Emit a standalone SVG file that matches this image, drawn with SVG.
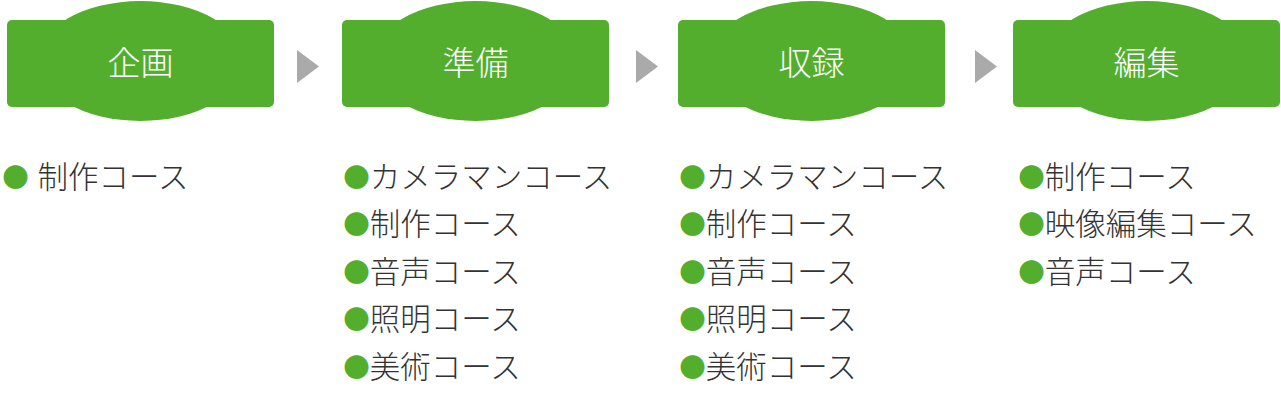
<svg xmlns="http://www.w3.org/2000/svg" width="1281" height="412" viewBox="0 0 1281 412">
<style>
.box{fill:#53ae2e}
.title{font-family:"Noto Sans CJK JP","Noto Sans",sans-serif;font-size:33px;font-weight:300;fill:#ffffff;text-anchor:middle}
.item{font-family:"Noto Sans CJK JP","Noto Sans",sans-serif;font-size:30.5px;font-weight:300;fill:#333333}
.dot{fill:#53ae2e;font-size:26.5px}
.arrow{fill:#aaaaaa}
</style>
<rect width="1281" height="412" fill="#ffffff"/>
<g id="node-kikaku">
<rect class="box" x="7" y="20" width="267" height="87" rx="5"/>
<ellipse class="box" cx="140.5" cy="61" rx="103" ry="60"/>
<text class="title" x="140.5" y="74.5">企画</text>
</g>
<g id="node-junbi">
<rect class="box" x="342" y="20" width="267" height="87" rx="5"/>
<ellipse class="box" cx="475.5" cy="61" rx="103" ry="60"/>
<text class="title" x="475.5" y="74.5">準備</text>
</g>
<g id="node-shuroku">
<rect class="box" x="678" y="20" width="267" height="87" rx="5"/>
<ellipse class="box" cx="811.5" cy="61" rx="103" ry="60"/>
<text class="title" x="811.5" y="74.5">収録</text>
</g>
<g id="node-henshu">
<rect class="box" x="1013" y="20" width="267" height="87" rx="5"/>
<ellipse class="box" cx="1146.5" cy="61" rx="103" ry="60"/>
<text class="title" x="1146.5" y="74.5">編集</text>
</g>
<g id="connectors">
<polygon class="arrow" points="297,50 319,66.5 297,83"/>
<polygon class="arrow" points="636,50 658,66.5 636,83"/>
<polygon class="arrow" points="975,50 997,66.5 975,83"/>
</g>
<g id="list-kikaku">
<text class="item" x="2.3" y="187.5"><tspan class="dot" dy="-1">●</tspan><tspan dy="1" dx="2"> 制作コース</tspan></text>
</g>
<g id="list-junbi">
<text class="item" x="343.3" y="187.5"><tspan class="dot" dy="-1">●</tspan><tspan dy="1">カメラマンコース</tspan></text>
<text class="item" x="343.3" y="235"><tspan class="dot" dy="-1">●</tspan><tspan dy="1">制作コース</tspan></text>
<text class="item" x="343.3" y="282.5"><tspan class="dot" dy="-1">●</tspan><tspan dy="1">音声コース</tspan></text>
<text class="item" x="343.3" y="330"><tspan class="dot" dy="-1">●</tspan><tspan dy="1">照明コース</tspan></text>
<text class="item" x="343.3" y="377.5"><tspan class="dot" dy="-1">●</tspan><tspan dy="1">美術コース</tspan></text>
</g>
<g id="list-shuroku">
<text class="item" x="679.3" y="187.5"><tspan class="dot" dy="-1">●</tspan><tspan dy="1">カメラマンコース</tspan></text>
<text class="item" x="679.3" y="235"><tspan class="dot" dy="-1">●</tspan><tspan dy="1">制作コース</tspan></text>
<text class="item" x="679.3" y="282.5"><tspan class="dot" dy="-1">●</tspan><tspan dy="1">音声コース</tspan></text>
<text class="item" x="679.3" y="330"><tspan class="dot" dy="-1">●</tspan><tspan dy="1">照明コース</tspan></text>
<text class="item" x="679.3" y="377.5"><tspan class="dot" dy="-1">●</tspan><tspan dy="1">美術コース</tspan></text>
</g>
<g id="list-henshu">
<text class="item" x="1018.3" y="187.5"><tspan class="dot" dy="-1">●</tspan><tspan dy="1">制作コース</tspan></text>
<text class="item" x="1018.3" y="235"><tspan class="dot" dy="-1">●</tspan><tspan dy="1">映像編集コース</tspan></text>
<text class="item" x="1018.3" y="282.5"><tspan class="dot" dy="-1">●</tspan><tspan dy="1">音声コース</tspan></text>
</g>
</svg>
